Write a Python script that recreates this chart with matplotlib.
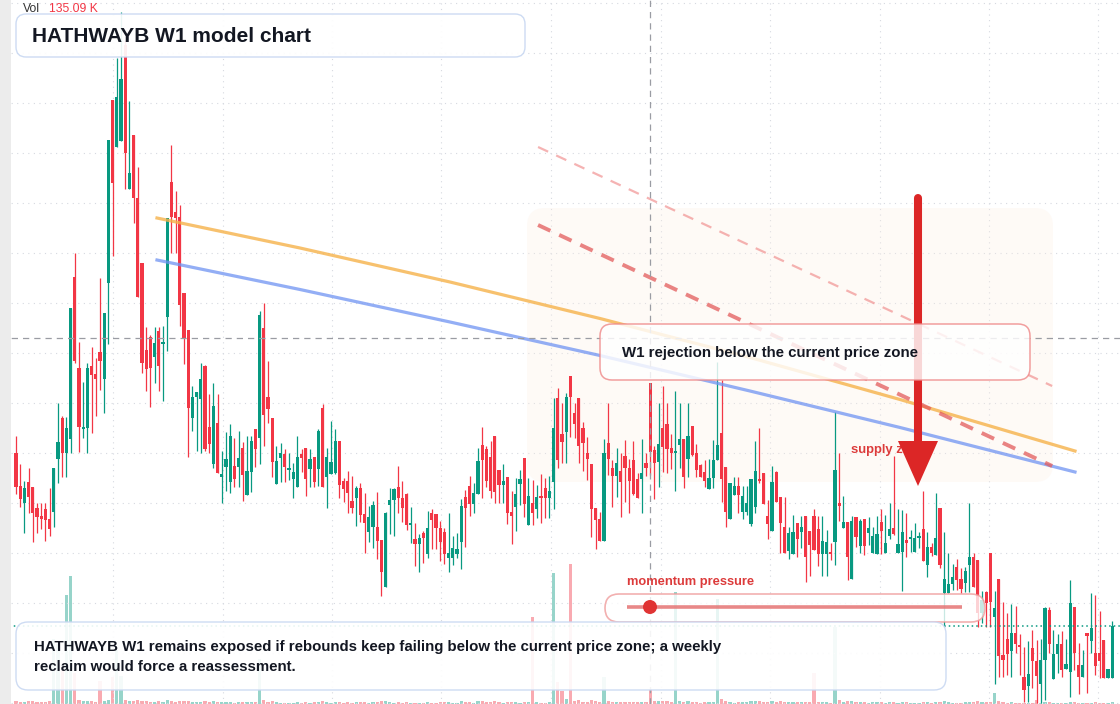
import numpy as np
import matplotlib
matplotlib.use("Agg")
import matplotlib.pyplot as plt
from matplotlib.patches import FancyBboxPatch, Polygon, Circle

plt.rcParams['font.family'] = ['Liberation Sans', 'DejaVu Sans']

# weekly candles, oldest first
opens = [
    19.00, 18.34, 18.00, 18.42, 18.32, 17.90, 17.74, 17.88, 17.68, 17.82,
    18.88, 19.70, 19.00, 19.28, 22.52, 20.70, 19.48, 19.50, 20.74, 20.58,
    21.02, 20.48, 22.40, 26.06, 25.12, 25.24, 27.16, 24.28, 25.36, 24.10,
    22.80, 21.06, 21.32, 20.92, 21.44, 21.18, 21.72, 24.42, 23.82, 23.72,
    22.20, 21.46, 19.70, 20.12, 20.08, 20.74, 19.52, 18.78, 19.60, 18.52,
    18.72, 18.42, 18.74, 18.72, 19.10, 18.16, 18.62, 19.48, 19.30, 21.50,
    20.12, 19.70, 18.38, 18.90, 18.98, 18.66, 18.48, 18.32, 18.98, 19.10,
    18.68, 18.92, 18.68, 19.90, 18.52, 18.58, 18.60, 19.24, 18.44, 18.44,
    18.04, 18.10, 18.30, 17.78, 17.42, 17.52, 17.52, 17.26, 16.32, 17.96,
    18.06, 18.32, 18.10, 18.18, 17.56, 17.28, 17.18, 17.40, 16.98, 17.80,
    17.78, 17.50, 17.42, 16.90, 16.90, 16.98, 17.22, 18.12, 18.34, 17.98,
    18.18, 19.16, 19.08, 18.92, 19.34, 18.66, 18.36, 18.52, 17.82, 17.92,
    18.38, 18.90, 17.56, 18.00, 17.88, 18.12, 18.30, 18.10, 18.42, 20.10,
    19.38, 19.42, 20.54, 19.80, 20.10, 19.50, 19.00, 18.78, 17.90, 17.68,
    17.24, 19.20, 18.70, 18.54, 18.64, 18.94, 18.70, 18.86, 18.48, 18.48,
    18.80, 20.40, 19.06, 18.82, 19.50, 19.58, 19.10, 19.00, 19.16, 19.28,
    18.88, 19.54, 19.00, 18.76, 18.62, 18.28, 18.50, 18.86, 19.40, 18.72,
    17.68, 18.16, 18.34, 17.82, 17.82, 17.58, 17.92, 18.46, 18.60, 17.74,
    17.44, 18.62, 18.12, 17.52, 17.04, 16.98, 17.60, 17.42, 17.74, 17.44,
    17.74, 17.48, 16.98, 16.98, 17.00, 17.22, 18.00, 17.50, 17.62, 16.48,
    17.72, 17.14, 17.68, 17.40, 17.00, 16.98, 17.62, 17.00, 17.34, 17.50,
    17.00, 17.02, 17.26, 17.28, 17.02, 17.30, 17.48, 16.76, 17.12, 16.96,
    17.90, 16.20, 16.20, 16.38, 16.72, 16.48, 16.40, 16.76, 16.92, 16.86,
    15.80, 16.22, 17.00, 15.72, 16.48, 14.96, 15.28, 15.04, 15.40, 15.14,
    14.52, 14.34, 15.10, 14.84, 14.38, 14.86, 15.86, 14.48, 14.98, 15.18,
    14.68, 14.62, 15.92, 14.76, 14.52, 15.40, 15.24, 15.00, 15.00, 15.26,
    14.50, 14.50,
]
highs = [
    19.34, 18.78, 18.44, 18.70, 18.32, 18.00, 18.00, 18.00, 18.30, 18.70,
    20.00, 19.74, 19.72, 21.90, 23.00, 21.22, 20.42, 20.80, 21.12, 20.90,
    22.50, 21.80, 25.26, 26.06, 26.90, 27.82, 27.26, 26.04, 25.36, 24.72,
    22.80, 21.52, 21.36, 21.52, 21.52, 21.54, 23.70, 25.16, 24.24, 23.96,
    22.20, 21.46, 20.34, 20.22, 20.80, 20.76, 20.18, 20.40, 20.18, 19.04,
    19.42, 19.58, 19.30, 19.44, 19.22, 19.34, 19.34, 19.48, 21.84, 22.00,
    20.84, 19.70, 19.14, 19.20, 19.08, 19.00, 18.80, 19.34, 19.08, 19.10,
    19.08, 18.92, 19.48, 19.98, 19.10, 19.64, 19.48, 19.24, 18.50, 18.64,
    18.54, 18.34, 18.40, 18.20, 17.94, 18.04, 18.22, 17.26, 17.82, 18.30,
    18.30, 18.74, 18.44, 18.20, 17.92, 17.60, 17.38, 17.44, 17.84, 17.88,
    17.78, 17.64, 17.50, 17.80, 17.34, 17.40, 18.08, 18.26, 18.54, 18.40,
    19.10, 19.52, 19.14, 19.24, 19.34, 18.66, 18.78, 18.52, 18.24, 18.50,
    18.66, 18.90, 18.50, 18.46, 18.36, 18.58, 18.50, 18.54, 20.10, 20.30,
    20.00, 20.20, 20.54, 20.00, 20.10, 19.62, 19.32, 18.78, 17.90, 17.82,
    19.28, 20.00, 18.86, 19.10, 19.00, 19.26, 18.88, 19.24, 18.60, 19.28,
    19.00, 20.40, 19.14, 20.00, 20.34, 20.00, 19.38, 20.24, 20.00, 19.28,
    20.00, 19.54, 19.18, 18.78, 18.86, 18.88, 19.26, 20.82, 20.46, 18.72,
    18.40, 18.52, 18.52, 18.34, 18.34, 18.48, 19.24, 19.50, 18.60, 18.06,
    18.74, 18.64, 18.12, 18.12, 17.52, 17.76, 17.60, 17.74, 17.74, 17.44,
    17.88, 17.74, 17.74, 17.46, 17.20, 19.82, 19.00, 18.14, 17.62, 17.74,
    17.72, 17.68, 17.68, 17.72, 17.52, 17.74, 17.88, 17.76, 18.00, 18.94,
    17.88, 17.86, 17.80, 17.46, 17.60, 17.42, 18.24, 17.42, 17.20, 18.20,
    17.90, 17.42, 17.00, 16.78, 16.88, 16.70, 16.72, 18.00, 17.00, 16.86,
    16.24, 16.24, 17.00, 16.24, 16.48, 16.02, 15.80, 15.98, 15.94, 15.38,
    15.12, 15.24, 15.46, 15.26, 15.28, 15.92, 15.92, 15.46, 15.38, 15.44,
    15.28, 16.46, 15.92, 15.20, 15.06, 15.40, 16.20, 16.16, 15.84, 15.26,
    14.68, 15.64,
]
lows = [
    18.18, 17.92, 17.40, 17.80, 17.22, 17.40, 17.48, 17.24, 17.34, 17.52,
    18.40, 18.52, 18.52, 19.00, 20.80, 19.02, 19.30, 19.00, 19.40, 19.74,
    20.26, 19.80, 21.18, 22.94, 25.12, 25.24, 24.28, 24.28, 23.60, 22.12,
    20.60, 20.24, 19.92, 20.40, 20.24, 20.04, 21.04, 23.00, 23.00, 21.54,
    20.78, 18.92, 19.44, 19.04, 19.00, 19.04, 19.00, 18.70, 18.60, 18.00,
    18.24, 18.20, 18.32, 18.32, 18.04, 18.16, 18.22, 18.72, 18.78, 19.14,
    19.60, 18.52, 18.38, 18.42, 18.42, 18.46, 18.10, 18.32, 18.62, 18.14,
    18.32, 18.32, 18.34, 18.32, 17.90, 18.58, 18.58, 18.10, 18.02, 17.80,
    17.80, 17.54, 17.62, 17.00, 17.22, 17.10, 16.88, 16.14, 16.32, 17.38,
    17.34, 17.80, 17.62, 17.46, 17.20, 16.74, 16.62, 16.80, 16.90, 17.08,
    17.08, 16.84, 16.78, 16.62, 16.76, 16.90, 16.68, 17.12, 17.74, 17.80,
    18.18, 18.10, 18.32, 18.10, 18.00, 18.00, 18.00, 17.58, 17.18, 17.44,
    17.96, 17.72, 17.56, 17.56, 17.70, 17.60, 17.70, 17.70, 17.88, 18.70,
    18.80, 18.80, 19.32, 19.30, 18.80, 18.64, 18.46, 17.32, 17.08, 17.24,
    17.24, 18.56, 17.92, 18.12, 17.72, 18.02, 17.80, 18.16, 18.10, 17.80,
    18.54, 18.56, 18.08, 18.32, 18.62, 18.60, 18.68, 18.24, 18.70, 18.30,
    18.52, 18.94, 18.52, 18.52, 18.32, 18.28, 18.30, 18.86, 18.02, 17.52,
    17.68, 18.16, 17.80, 17.68, 17.76, 17.54, 17.80, 18.40, 17.98, 17.28,
    17.44, 18.02, 17.00, 17.00, 16.88, 16.98, 16.92, 17.10, 16.42, 16.54,
    17.06, 16.74, 16.54, 16.54, 16.86, 16.76, 17.64, 17.50, 16.46, 16.48,
    17.12, 17.00, 16.96, 17.16, 17.00, 16.98, 16.98, 17.00, 17.28, 17.36,
    17.00, 16.24, 16.92, 17.02, 17.02, 17.10, 16.84, 16.52, 16.94, 16.96,
    16.70, 15.52, 16.20, 16.26, 16.26, 16.20, 16.22, 16.22, 16.32, 15.52,
    15.60, 15.52, 15.52, 14.38, 14.52, 14.52, 14.56, 14.52, 15.00, 14.56,
    14.02, 14.02, 14.30, 14.00, 14.00, 14.06, 15.00, 14.48, 14.60, 14.52,
    14.68, 14.12, 14.66, 14.18, 14.52, 14.20, 15.00, 14.56, 14.50, 14.50,
    14.50, 14.50,
]
closes = [
    18.32, 18.08, 18.30, 18.12, 17.80, 17.72, 17.68, 17.66, 17.48, 18.70,
    19.22, 19.00, 19.50, 21.90, 20.84, 19.52, 19.52, 20.70, 20.56, 20.48,
    20.84, 21.80, 25.26, 24.40, 26.12, 26.48, 25.00, 24.60, 24.10, 22.12,
    20.80, 20.68, 20.70, 21.20, 20.74, 21.20, 23.70, 23.72, 23.70, 21.96,
    21.30, 19.90, 20.12, 20.22, 20.48, 19.08, 19.18, 19.94, 18.60, 18.58,
    18.88, 19.34, 18.48, 18.90, 18.56, 18.64, 19.24, 19.08, 21.76, 19.76,
    19.88, 18.82, 18.84, 19.00, 18.72, 18.70, 18.62, 18.92, 18.90, 18.48,
    18.88, 18.42, 19.44, 18.32, 18.92, 18.82, 19.24, 18.36, 18.28, 18.20,
    17.90, 18.30, 17.76, 17.60, 17.72, 17.96, 17.24, 16.62, 17.80, 18.06,
    18.28, 18.10, 17.90, 17.56, 17.60, 17.18, 17.30, 17.30, 17.50, 17.66,
    17.50, 17.22, 16.98, 17.00, 17.10, 17.08, 17.94, 17.90, 17.98, 18.20,
    18.84, 18.86, 18.44, 18.24, 18.22, 18.36, 18.44, 17.80, 17.74, 18.18,
    18.48, 17.98, 18.14, 17.80, 18.12, 18.10, 18.10, 18.24, 19.50, 18.86,
    19.22, 20.12, 20.12, 19.58, 19.14, 19.20, 18.88, 17.88, 17.66, 17.24,
    19.00, 18.88, 18.54, 18.80, 18.42, 18.70, 18.44, 18.18, 18.10, 18.60,
    18.70, 19.02, 18.80, 19.18, 19.12, 19.08, 19.00, 19.02, 19.28, 18.52,
    19.34, 18.96, 18.66, 18.52, 18.44, 18.50, 18.86, 19.16, 18.48, 17.82,
    18.40, 18.34, 18.16, 18.14, 18.00, 18.48, 18.64, 18.44, 17.98, 17.58,
    18.42, 18.02, 17.60, 17.00, 17.40, 17.42, 17.28, 17.52, 16.92, 17.16,
    17.06, 16.98, 17.24, 17.22, 16.98, 18.66, 17.94, 17.62, 16.92, 17.64,
    17.32, 17.64, 17.14, 17.50, 17.34, 17.38, 17.44, 17.20, 17.48, 17.38,
    17.18, 17.42, 17.20, 17.30, 17.30, 17.32, 16.84, 17.12, 17.00, 17.30,
    16.76, 16.48, 16.38, 16.52, 16.46, 16.28, 16.64, 16.92, 16.32, 15.80,
    16.06, 16.00, 16.02, 15.90, 14.94, 14.86, 14.98, 15.40, 15.18, 15.12,
    14.26, 14.58, 14.84, 14.54, 14.86, 15.90, 15.18, 14.98, 15.18, 14.66,
    14.78, 16.00, 15.00, 14.52, 14.76, 15.34, 15.50, 14.74, 14.84, 14.50,
    14.68, 15.54,
]
# volume in thousands of shares
volumes = [
    30, 22, 18, 25, 30, 20, 15, 18, 28, 600,
    560, 320, 1010, 1190, 290, 35, 25, 30, 28, 22,
    215, 30, 38, 250, 500, 260, 36, 28, 30, 34,
    30, 25, 22, 18, 28, 18, 34, 30, 22, 28,
    25, 30, 18, 15, 22, 28, 18, 25, 22, 15,
    15, 22, 12, 15, 18, 15, 18, 15, 420, 34,
    22, 25, 15, 12, 12, 10, 12, 18, 12, 15,
    12, 15, 18, 28, 15, 12, 18, 22, 12, 15,
    12, 15, 18, 18, 12, 15, 18, 25, 30, 15,
    12, 15, 12, 15, 10, 12, 12, 10, 15, 12,
    12, 15, 15, 18, 12, 10, 25, 18, 15, 12,
    25, 28, 18, 22, 25, 15, 12, 22, 15, 15,
    12, 22, 18, 810, 15, 12, 12, 15, 1215, 200,
    120, 45, 1300, 28, 34, 22, 18, 34, 25, 22,
    250, 28, 22, 18, 22, 18, 18, 22, 15, 22,
    15, 135.09, 25, 28, 30, 25, 18, 1040, 25, 22,
    28, 18, 15, 12, 15, 15, 22, 975, 45, 30,
    22, 12, 18, 15, 15, 25, 28, 25, 18, 15,
    25, 22, 25, 18, 15, 18, 15, 15, 18, 15,
    290, 18, 18, 15, 12, 715, 34, 18, 25, 28,
    18, 15, 18, 12, 15, 15, 18, 12, 15, 22,
    12, 18, 15, 12, 12, 10, 22, 15, 12, 18,
    22, 25, 15, 12, 12, 12, 15, 15, 18, 25,
    18, 15, 22, 100, 25, 15, 12, 15, 12, 10,
    12, 10, 10, 40, 10, 18, 15, 10, 10, 12,
    10, 18, 15, 10, 10, 12, 12, 15, 10, 12,
    10, 15,
]

# drawn levels (bar index, price)
orange_x = [33.57, 67.62, 103.33, 139.05, 174.76, 210.48, 252.14]
orange_y = [23.70, 23.10, 22.42, 21.69, 20.91, 20.07, 19.04]
blue_x = [33.57, 67.62, 103.33, 139.05, 174.76, 210.48, 252.14]
blue_y = [22.86, 22.27, 21.62, 20.95, 20.24, 19.51, 18.62]
upper_x = [124.3, 246.7]
upper_y = [25.12, 20.34]
lower_x = [124.3, 246.7]
lower_y = [23.56, 18.74]
hover_bar = 151
hover_price = 21.30

GREEN = '#089981'
RED = '#f23645'

W, H = 1120, 704
fig = plt.figure(figsize=(W / 100, H / 100), dpi=100)
fig.patch.set_facecolor('white')

ax = fig.add_axes([0, 0, 1, 1])
axv = ax.twinx()
ax.set_zorder(2)
axv.set_zorder(1)
ax.patch.set_visible(False)

n = len(closes)
x = np.arange(n)
o = np.array(opens)
c = np.array(closes)
hi = np.array(highs)
lo = np.array(lows)
up = c >= o
col = np.where(up, GREEN, RED)

ax.set_xlim(-16 / 4.2, (W - 16) / 4.2)
ax.set_ylim(13.98, 28.06)
axv.set_ylim(0, 6540)
for a in (ax, axv):
    a.axis('off')

# grid
for p in range(14, 29):
    ax.axhline(p, color='#d6d9e0', lw=0.8, ls=(0, (1, 4)), zorder=0.5)
for gx in [23.1, 49.2, 75.2, 101.3, 127.4, 153.5, 179.5, 205.6, 231.7, 257.7]:
    ax.axvline(gx, color='#d6d9e0', lw=0.8, ls=(0, (1, 4)), zorder=0.5)

# volume
axv.bar(x, volumes, width=0.72, color=col, alpha=0.42, linewidth=0)

# candles
ax.vlines(x, lo, hi, colors=col, lw=0.9, zorder=3)
ax.bar(x, np.maximum(np.abs(c - o), 0.03), bottom=np.minimum(o, c),
       width=0.72, color=col, linewidth=0, zorder=3)

# overlay in pixel units
ov = fig.add_axes([0, 0, 1, 1], zorder=5)
ov.set_xlim(0, W)
ov.set_ylim(H, 0)
ov.axis('off')
ov.patch.set_visible(False)

# supply zone shading behind the candles
zone = FancyBboxPatch((527, 208), 526, 274, boxstyle='round,pad=0,rounding_size=18',
                      fc='#fcefe4', ec='none', alpha=0.3, transform=ov.transData, zorder=1)
ax.add_patch(zone)

# trend lines
ax.plot(orange_x, orange_y, color='#f6b24a', lw=2.3, alpha=0.8, zorder=4)
ax.plot(blue_x, blue_y, color='#6f93f2', lw=2.3, alpha=0.75, zorder=4)
ax.plot(upper_x, upper_y, color='#f08a8a', lw=1.6, alpha=0.65, ls=(0, (5, 4)), zorder=4)
ax.plot(lower_x, lower_y, color='#e35b5b', lw=2.8, alpha=0.75, ls=(0, (3.5, 2.5)), zorder=4)

# price line and crosshair
ax.axhline(c[-1], color=GREEN, lw=1.1, ls=(0, (1, 2)), zorder=4)
ax.axvline(hover_bar, color='#9a9ca3', lw=0.9, ls=(0, (5, 4)), zorder=4.5)
ax.axhline(hover_price, color='#9a9ca3', lw=0.9, ls=(0, (5, 4)), zorder=4.5)

# left scale strip
ov.add_patch(plt.Rectangle((0, 0), 11, H, fc='#ececec', ec='none', zorder=1))

# supply zone label and arrow
ov.text(851, 453, 'supply zone', color='#dc3b3b', fontsize=9.4, fontweight='bold',
        va='baseline', ha='left', zorder=2)
ov.plot([918, 918], [198, 445], color='#dc2626', lw=5.8, solid_capstyle='round', zorder=3)
ov.add_patch(Polygon([(898, 441), (938, 441), (918, 486)], closed=True,
                     fc='#dc2626', ec='none', zorder=3))

# rejection callout
ov.add_patch(FancyBboxPatch((600, 324), 430, 56, boxstyle='round,pad=0,rounding_size=12',
                            fc='white', ec='#ef8a8a', lw=1.1, alpha=0.82, zorder=4))
ov.text(622, 353, 'W1 rejection below the current price zone', color='#131722',
        fontsize=10.85, fontweight='bold', va='center', ha='left', zorder=5)

# momentum gauge
ov.text(627, 582, 'momentum pressure', color='#dc3b3b', fontsize=9.3, fontweight='bold',
        va='center', ha='left', zorder=4)
ov.add_patch(FancyBboxPatch((605, 594), 380, 28, boxstyle='round,pad=0,rounding_size=14',
                            fc='white', ec='#ef9a9a', lw=1.2, alpha=0.78, zorder=4))
ov.plot([627, 962], [607, 607], color='#e57373', lw=2.6, alpha=0.85, zorder=5,
        solid_capstyle='butt')
ov.add_patch(Circle((650, 607), 7, fc='#e03434', ec='none', zorder=6))

# title card
ov.add_patch(FancyBboxPatch((16, 14), 509, 43, boxstyle='round,pad=0,rounding_size=10',
                            fc='white', ec='#c9d8f2', lw=1.0, alpha=0.92, zorder=4))
ov.text(32, 36, 'HATHWAYB W1 model chart', color='#131722', fontsize=15,
        fontweight='bold', va='center', ha='left', zorder=5)

# summary card
ov.add_patch(FancyBboxPatch((16, 622), 930, 68, boxstyle='round,pad=0,rounding_size=12',
                            fc='white', ec='#c9d8f2', lw=1.0, alpha=0.9, zorder=4))
ov.text(34, 647, 'HATHWAYB W1 remains exposed if rebounds keep failing below the current '
        'price zone; a weekly', color='#131722', fontsize=10.85, fontweight='bold',
        va='center', ha='left', zorder=5)
ov.text(34, 667, 'reclaim would force a reassessment.', color='#131722', fontsize=10.85,
        fontweight='bold', va='center', ha='left', zorder=5)

# volume legend
ov.text(23, 9, 'Vol', color='#333333', fontsize=8.7, va='center', ha='left', zorder=5)
ov.text(49, 9, f'{volumes[hover_bar]:.2f} K', color=RED, fontsize=8.7, va='center',
        ha='left', zorder=5)

fig.savefig('out.png', dpi=100)
